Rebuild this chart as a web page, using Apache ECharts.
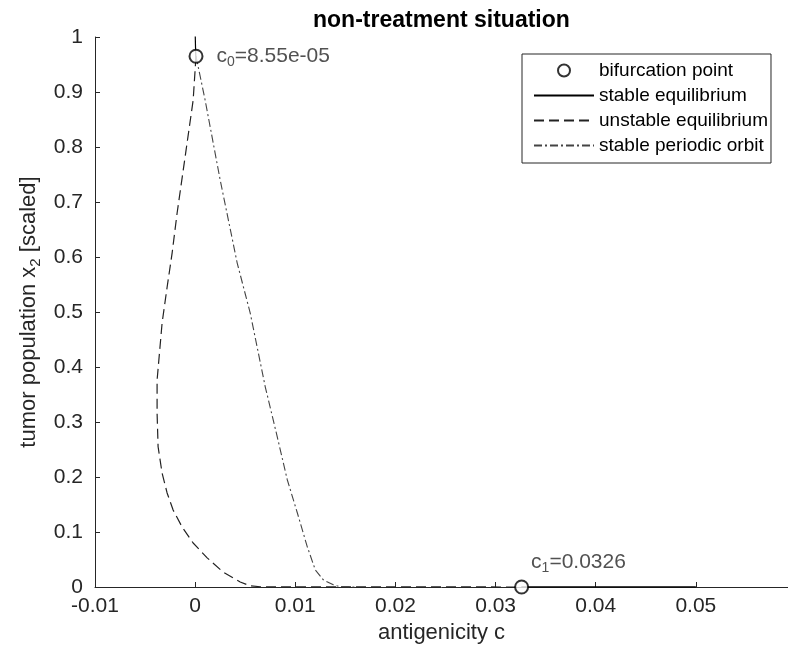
<!DOCTYPE html>
<html><head><meta charset="utf-8">
<script src="https://cdn.jsdelivr.net/npm/echarts@6/dist/echarts.min.js"></script>
<style>html,body{margin:0;padding:0;background:#fff}#c{width:788px;height:660px}</style>
</head><body><div id="c"></div>
<script>
// ---- data ----
const bifC = [0.0000855, 0.0326];
const bifX = [0.965, 0];
const stableTopC = [0.0000855, 0.00004, 0.0];
const stableTopX = [0.955, 0.98, 1.01];
const stableLowC = [0.0326, 0.05];
const stableLowX = [0, 0];
const unstableC = [0.0000855, -0.0002, -0.0014, -0.0018, -0.0023, -0.0028, -0.0033, -0.0038, -0.0038, -0.0037, -0.0033, -0.0028, -0.0022, -0.0013, -0.0002, 0.0012, 0.0028, 0.0045, 0.0055, 0.0065, 0.0326];
const unstableX = [0.965, 0.885, 0.731, 0.680, 0.607, 0.545, 0.480, 0.376, 0.316, 0.255, 0.207, 0.171, 0.140, 0.109, 0.080, 0.053, 0.027, 0.009, 0.002, 0.0005, 0];
const periodicC = [0.0000855, 0.0010, 0.0025, 0.0042, 0.0055, 0.0070, 0.0082, 0.0092, 0.0102, 0.0112, 0.0120, 0.0128, 0.0138, 0.0145, 0.0160];
const periodicX = [0.965, 0.885, 0.740, 0.589, 0.498, 0.364, 0.273, 0.195, 0.135, 0.073, 0.031, 0.013, 0.004, 0.0005, 0];
const bifLabels = ['{t|c}{s|0}{t|=8.55e-05}', '{t|c}{s|1}{t|=0.0326}'];
const legendNames = ['bifurcation point', 'stable equilibrium', 'unstable equilibrium', 'stable periodic orbit'];

const zip = (a, b) => a.map((v, i) => [v, b[i]]);
const txt = '#262626';
const FONT = 'Liberation Sans';
const rich = {
  t: {fontSize: 21, color: txt, fontFamily: FONT},
  s: {fontSize: 14, color: txt, fontFamily: FONT, padding: [12, 0, 0, 0]}
};
const richName = {
  t: {fontSize: 22, color: txt, fontFamily: FONT},
  s: {fontSize: 15, color: txt, fontFamily: FONT, padding: [12, 0, 0, 0]}
};

const chart = echarts.init(document.getElementById('c'));
chart.setOption({
  animation: false,
  backgroundColor: '#fff',
  textStyle: {fontFamily: FONT},
  title: {
    text: 'non-treatment situation', left: 308, top: 4,
    textStyle: {fontSize: 23, fontWeight: 'bold', color: '#000', fontFamily: FONT}
  },
  grid: {left: 95, right: 0, top: 37, bottom: 73},
  legend: {
    orient: 'vertical', left: 522, top: 54,
    padding: [7, 3, 8, 11], itemGap: 6, itemWidth: 60, itemHeight: 12,
    borderColor: txt, borderWidth: 1, backgroundColor: '#fff',
    textStyle: {fontSize: 19, color: '#000', fontFamily: FONT},
    data: legendNames.map((n, i) => i === 0 ? {name: n} : {name: n, itemStyle: {opacity: 0}})
  },
  xAxis: {
    type: 'value', min: -0.01, max: 0.0592, interval: 0.01,
    name: 'antigenicity c', nameLocation: 'middle', nameGap: 30,
    nameTextStyle: {fontSize: 22, color: txt},
    axisLine: {onZero: false, lineStyle: {color: txt, width: 1}},
    axisTick: {inside: true, length: 5, lineStyle: {color: txt}},
    axisLabel: {fontSize: 21, color: txt, margin: 9, showMaxLabel: false,
      formatter: v => String(Math.round(v * 1000) / 1000)},
    splitLine: {show: false}
  },
  yAxis: {
    type: 'value', min: 0, max: 1, interval: 0.1,
    name: '{t|tumor population x}{s|2}{t| [scaled]}', nameLocation: 'middle', nameGap: 50,
    nameTextStyle: {rich: richName},
    axisLine: {onZero: false, lineStyle: {color: txt, width: 1}},
    axisTick: {inside: true, length: 5, lineStyle: {color: txt}},
    axisLabel: {fontSize: 21, color: txt, margin: 12,
      formatter: v => String(Math.round(v * 10) / 10)},
    splitLine: {show: false}
  },
  series: [
    {
      name: 'bifurcation point', type: 'scatter', symbol: 'emptyCircle', symbolSize: 13, z: 5,
      itemStyle: {color: '#000', borderColor: '#000', borderWidth: 1},
      data: bifC.map((c, i) => ({
        value: [c, bifX[i]],
        label: i === 0
          ? {show: true, position: 'right', distance: 13, formatter: bifLabels[0], rich: rich}
          : {show: true, position: 'right', distance: 2, offset: [0, -25], formatter: bifLabels[1], rich: rich}
      }))
    },
    {
      name: 'stable equilibrium', type: 'line', symbol: 'none', z: 3,
      lineStyle: {color: '#000', width: 1.2, type: 'solid'},
      data: zip(stableTopC, stableTopX)
    },
    {
      name: 'stable equilibrium', type: 'line', symbol: 'none', z: 3,
      lineStyle: {color: '#000', width: 1.6, type: 'solid'},
      data: zip(stableLowC, stableLowX)
    },
    {
      name: 'unstable equilibrium', type: 'line', symbol: 'none', z: 3,
      lineStyle: {color: '#222', width: 1.2, type: [10, 5]},
      data: zip(unstableC, unstableX)
    },
    {
      name: 'stable periodic orbit', type: 'line', symbol: 'none', z: 3,
      lineStyle: {color: '#444', width: 1.1, type: [8, 3, 2, 3]},
      data: zip(periodicC, periodicX)
    }
  ]
});
</script></body></html>
